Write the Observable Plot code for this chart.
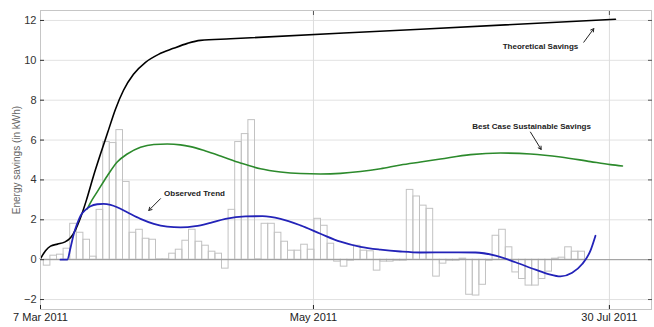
<!DOCTYPE html>
<html>
<head>
<meta charset="utf-8">
<script src="https://cdn.jsdelivr.net/npm/d3@7"></script>
<script src="https://cdn.jsdelivr.net/npm/@observablehq/plot@0.6"></script>
<style>
  html, body { margin: 0; padding: 0; background: #fff; }
</style>
</head>
<body>
<div id="chart"></div>
<script>
// Daily/periodic observed savings bars (kWh), one per slot
const barValues = [
  -0.3, 0.2, 0.25, 0.55, 1.8, 1.35, 1.0, 0.15, 2.5, 5.9,
  5.85, 6.5, 3.9, 1.35, 1.5, 1.05, 1.0, 0.02, 0.02, 0.3,
  0.5, 0.95, 1.5, 0.9, 0.7, 0.4, 0.3, -0.45, 2.5, 5.9,
  6.3, 7.0, 0.02, 1.8, 1.8, 1.35, 0.9, 0.45, 0.45, 0.75,
  0.5, 2.05, 1.7, 0.8, -0.1, -0.35, -0.05, 0.7, 0.45, 0.42,
  -0.55, -0.1, -0.1, -0.05, -0.05, 3.5, 3.17, 2.71, 2.55, -0.85,
  -0.2, -0.05, -0.05, 0.05, -1.76, -1.8, -1.26, -0.05, 1.2, 1.5,
  0.62, -0.64, -0.97, -1.3, -1.3, -0.97, -0.6, 0.05, 0.1, 0.62,
  0.4, 0.4
];

// Theoretical Savings curve (x in bar slots)
const theoreticalX = [-0.5, 0.26, 1.02, 2.08, 3.14, 4.05, 4.8, 5.56, 6.47, 7.53, 8.59, 9.65, 10.86, 12.08, 13.59, 15.41, 17.38, 19.65, 21.77, 23.74, 28.29, 57.08, 86.62];
const theoreticalY = [0.05, 0.45, 0.68, 0.78, 0.88, 1.1, 1.5, 2.1, 3.0, 4.2, 5.3, 6.35, 7.55, 8.5, 9.3, 9.9, 10.3, 10.6, 10.85, 11.0, 11.08, 11.56, 12.06];

// Best Case Sustainable Savings curve
const bestCaseX = [6.58, 7.23, 8.09, 9.61, 11.12, 12.64, 14.65, 16.67, 18.7, 20.71, 22.23, 24.5, 26.77, 29.8, 32.83, 35.86, 38.89, 41.92, 44.95, 47.98, 51.02, 54.05, 57.08, 60.11, 64.65, 69.2, 73.74, 78.29, 82.83, 85.86, 87.68];
const bestCaseY = [2.55, 2.95, 3.4, 4.2, 4.9, 5.3, 5.64, 5.78, 5.8, 5.76, 5.67, 5.45, 5.2, 4.85, 4.56, 4.4, 4.32, 4.3, 4.33, 4.42, 4.56, 4.75, 4.9, 5.05, 5.27, 5.35, 5.3, 5.15, 4.92, 4.77, 4.7];

// Observed Trend curve
const observedX = [2.53, 3.55, 4.05, 4.55, 5.11, 5.56, 6.32, 7.08, 8.09, 9.05, 10.11, 11.12, 12.64, 14.65, 16.67, 18.7, 20.71, 22.98, 25.26, 27.53, 30.56, 33.14, 35.86, 38.89, 41.92, 44.95, 47.98, 51.02, 54.05, 57.08, 61.62, 65.41, 68.44, 71.47, 74.5, 76.47, 78.29, 80.06, 81.58, 82.83, 83.59];
const observedY = [0, 0, 0.6, 1.3, 1.85, 2.2, 2.5, 2.68, 2.78, 2.8, 2.75, 2.63, 2.38, 2.05, 1.8, 1.66, 1.62, 1.68, 1.85, 2.05, 2.17, 2.18, 2.05, 1.72, 1.3, 0.9, 0.64, 0.5, 0.41, 0.36, 0.37, 0.36, 0.2, -0.13, -0.5, -0.72, -0.84, -0.66, -0.22, 0.45, 1.2];

// Axis ticks
const xTickPositions = [-0.5, 40.86, 85.7];
const xTickLabels = ["7 Mar 2011", "May 2011", "30 Jul 2011"];
const yTicks = [-2, 0, 2, 4, 6, 8, 10, 12];

// Annotations: label position and arrow (start -> end)
const annoLabels = ["Theoretical Savings", "Best Case Sustainable Savings", "Observed Trend"];
const annoTextX = [75.26, 73.9, 22.83];
const annoTextY = [10.71, 6.7, 3.3];
const annoArrowX1 = [81.82, 73.74, 17.68];
const annoArrowY1 = [10.91, 6.4, 3.06];
const annoArrowX2 = [83.33, 75.36, 15.91];
const annoArrowY2 = [11.59, 5.53, 2.47];

// Build tables
const bars = barValues.map((v, i) => ({i, v}));
const zip = (xs, ys) => xs.map((x, k) => ({x, y: ys[k]}));
const theoretical = zip(theoreticalX, theoreticalY);
const bestCase = zip(bestCaseX, bestCaseY);
const observed = zip(observedX, observedY);
const annos = annoLabels.map((t, k) => ({
  t, tx: annoTextX[k], ty: annoTextY[k],
  x1: annoArrowX1[k], y1: annoArrowY1[k], x2: annoArrowX2[k], y2: annoArrowY2[k]
}));
const xLabelMap = new Map(xTickPositions.map((p, k) => [p, xTickLabels[k]]));

const chart = Plot.plot({
  width: 654,
  height: 327,
  marginLeft: 40,
  marginRight: 3,
  marginTop: 10,
  marginBottom: 18,
  style: {fontFamily: "'Liberation Sans', Arial, sans-serif", background: "#fff"},
  x: {type: "linear", domain: [-0.5, 92.08]},
  y: {domain: [-2.5, 12.5]},
  marks: [
    Plot.gridY(yTicks, {stroke: "#e2e2e2", strokeOpacity: 1}),
    Plot.gridX(xTickPositions.slice(1), {stroke: "#dcdcdc", strokeOpacity: 1}),
    Plot.rect(bars, {x1: "i", x2: d => d.i + 1, y1: 0, y2: "v", fill: "none", stroke: "#c2c2c2", strokeWidth: 1}),
    Plot.ruleY([0], {stroke: "#9a9a9a", strokeWidth: 1}),
    Plot.line(theoretical, {x: "x", y: "y", curve: "monotone-x", stroke: "#000", strokeWidth: 1.6}),
    Plot.line(bestCase, {x: "x", y: "y", curve: "monotone-x", stroke: "#2c8a2c", strokeWidth: 1.6}),
    Plot.line(observed, {x: "x", y: "y", curve: "monotone-x", stroke: "#2323b8", strokeWidth: 1.8}),
    Plot.text(annos, {x: "tx", y: "ty", text: "t", fontSize: 8, fontWeight: "bold", fill: "#222"}),
    Plot.arrow(annos, {x1: "x1", y1: "y1", x2: "x2", y2: "y2", stroke: "#222", strokeWidth: 1, headLength: 5}),
    Plot.frame({stroke: "#c6c6c6"}),
    Plot.axisY({ticks: yTicks, tickSize: -4, tickPadding: 8, fontSize: 11, color: "#333", label: null}),
    Plot.axisY({ticks: [], label: "Energy savings (in kWh)", labelAnchor: "center", labelOffset: 28, labelArrow: "none", fontSize: 10, color: "#666"}),
    Plot.axisY({anchor: "right", ticks: yTicks, tickSize: -4, tickFormat: () => "", label: null, color: "#555"}),
    Plot.axisX({ticks: xTickPositions, tickSize: -4, tickPadding: 8, tickFormat: d => xLabelMap.get(d), fontSize: 11, color: "#222", label: null}),
    Plot.axisX({anchor: "top", ticks: xTickPositions.slice(1), tickSize: -4, tickFormat: () => "", label: null, color: "#555"})
  ]
});
document.getElementById("chart").appendChild(chart);
</script>
</body>
</html>
